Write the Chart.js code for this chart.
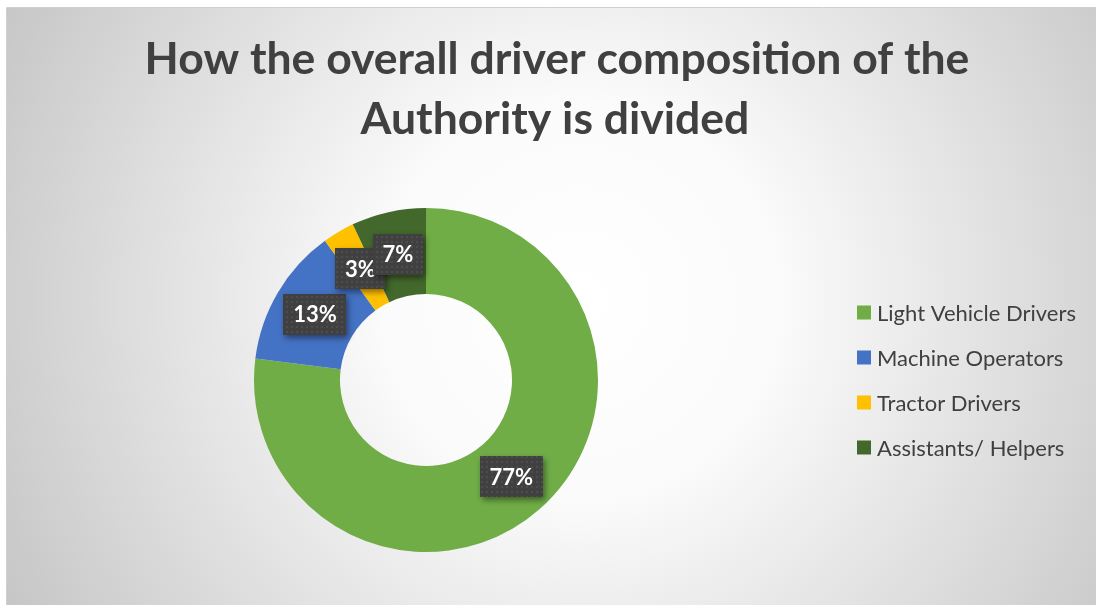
<!DOCTYPE html>
<html>
<head>
<meta charset="utf-8">
<script src="https://cdn.jsdelivr.net/npm/chart.js@4.4.1/dist/chart.umd.min.js"></script>
<style>
  html, body { margin: 0; padding: 0; background: #ffffff; }
  #wrap { width: 1096px; height: 605px; }
</style>
</head>
<body>
<div id="wrap"><canvas id="c" width="1096" height="605"></canvas></div>
<script>
const titleLines = ["How the overall driver composition of the", "Authority is divided"];
const categories = ["Light Vehicle Drivers", "Machine Operators", "Tractor Drivers", "Assistants/ Helpers"];
const shares = [77, 13, 3, 7];
const colors = ["#70AD47", "#4472C4", "#FFC000", "#43682B"];

const FONT = "Lato, 'Open Sans', 'DejaVu Sans', sans-serif";
const TEXT_COLOR = "#404040";

function makeDotPattern(ctx) {
  const p = document.createElement("canvas");
  p.width = 5; p.height = 5;
  const pc = p.getContext("2d");
  pc.fillStyle = "#404040";
  pc.fillRect(0, 0, 5, 5);
  pc.fillStyle = "rgba(255,255,255,0.07)";
  pc.fillRect(1, 1, 2, 2);
  return ctx.createPattern(p, "repeat");
}

const backgroundPlugin = {
  id: "bg",
  beforeDraw(chart) {
    const ctx = chart.ctx;
    const W = chart.width, H = chart.height;
    ctx.save();
    ctx.fillStyle = "#ffffff";
    ctx.fillRect(0, 0, W, H);
    const g = ctx.createRadialGradient(580, 300, 0, 580, 300, 650);
    g.addColorStop(0, "#ffffff");
    g.addColorStop(0.3, "#fbfbfb");
    g.addColorStop(1, "#c6c6c6");
    ctx.fillStyle = g;
    ctx.fillRect(6, 8, W - 6, H - 8);
    ctx.strokeStyle = "#d0d0d0";
    ctx.lineWidth = 1;
    ctx.beginPath();
    ctx.moveTo(6.5, H);
    ctx.lineTo(6.5, 7.5);
    ctx.lineTo(W, 7.5);
    ctx.stroke();
    ctx.restore();
  }
};

const textPlugin = {
  id: "texts",
  afterDraw(chart) {
    const ctx = chart.ctx;
    ctx.save();
    // Title
    ctx.fillStyle = TEXT_COLOR;
    ctx.font = "700 44.5px " + FONT;
    ctx.textAlign = "center";
    ctx.textBaseline = "alphabetic";
    ctx.fillText(titleLines[0], 557, 74);
    ctx.fillText(titleLines[1], 555, 134);

    // Legend
    const ds = chart.data.datasets[0];
    ctx.font = "400 22px " + FONT;
    ctx.textAlign = "left";
    ctx.textBaseline = "middle";
    chart.data.labels.forEach((lab, i) => {
      const cy = 312.5 + i * 45;
      ctx.fillStyle = ds.backgroundColor[i];
      ctx.fillRect(857, cy - 7, 14, 14);
      ctx.fillStyle = TEXT_COLOR;
      ctx.fillText(lab, 877, cy + 1);
    });
    ctx.restore();
  },
  afterDatasetsDraw(chart) {
    const ctx = chart.ctx;
    const meta = chart.getDatasetMeta(0);
    const ds = chart.data.datasets[0];
    const pattern = makeDotPattern(ctx);
    ctx.save();
    ctx.font = "700 22px " + FONT;
    meta.data.forEach((arc, i) => {
      const pos = arc.tooltipPosition();
      const txt = ds.data[i] + "%";
      const tw = ctx.measureText(txt).width;
      const bw = Math.round(tw + 19), bh = 41;
      const x = Math.round(pos.x - bw / 2), y = Math.round(pos.y - bh / 2);
      ctx.save();
      ctx.shadowColor = "rgba(0,0,0,0.45)";
      ctx.shadowBlur = 6;
      ctx.shadowOffsetX = 2;
      ctx.shadowOffsetY = 3;
      ctx.fillStyle = "#404040";
      ctx.fillRect(x, y, bw, bh);
      ctx.restore();
      ctx.fillStyle = pattern;
      ctx.fillRect(x, y, bw, bh);
      ctx.fillStyle = "#ffffff";
      ctx.textAlign = "center";
      ctx.textBaseline = "middle";
      ctx.fillText(txt, pos.x, pos.y + 1);
    });
    ctx.restore();
  }
};

new Chart(document.getElementById("c"), {
  type: "doughnut",
  data: {
    labels: categories,
    datasets: [{
      data: shares,
      backgroundColor: colors,
      borderWidth: 0,
      hoverOffset: 0,
      offset: 0
    }]
  },
  options: {
    responsive: false,
    animation: false,
    devicePixelRatio: 1,
    cutout: "50%",
    rotation: 0,
    layout: { padding: { left: 254, right: 498, top: 208, bottom: 53 } },
    plugins: {
      legend: { display: false },
      title: { display: false },
      tooltip: { enabled: false }
    }
  },
  plugins: [backgroundPlugin, textPlugin]
});
</script>
</body>
</html>
